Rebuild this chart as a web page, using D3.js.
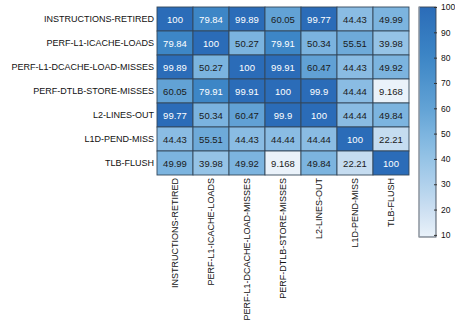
<!DOCTYPE html>
<html><head><meta charset="utf-8">
<script src="https://cdn.jsdelivr.net/npm/d3@7"></script>
<style>body{margin:0;background:#fff;}svg{display:block;font-family:"Liberation Sans",Arial,sans-serif;}</style>
</head><body><svg id="c" width="455" height="327"></svg>
<script>
const labels = ["INSTRUCTIONS-RETIRED","PERF-L1-ICACHE-LOADS","PERF-L1-DCACHE-LOAD-MISSES","PERF-DTLB-STORE-MISSES","L2-LINES-OUT","L1D-PEND-MISS","TLB-FLUSH"];
const row0 = [100, 79.84, 99.89, 60.05, 99.77, 44.43, 49.99];
const row1 = [79.84, 100, 50.27, 79.91, 50.34, 55.51, 39.98];
const row2 = [99.89, 50.27, 100, 99.91, 60.47, 44.43, 49.92];
const row3 = [60.05, 79.91, 99.91, 100, 99.9, 44.44, 9.168];
const row4 = [99.77, 50.34, 60.47, 99.9, 100, 44.44, 49.84];
const row5 = [44.43, 55.51, 44.43, 44.44, 44.44, 100, 22.21];
const row6 = [49.99, 39.98, 49.92, 9.168, 49.84, 22.21, 100];
const colorbarTicks = [10,20,30,40,50,60,70,80,90,100];
const matrix = [row0,row1,row2,row3,row4,row5,row6];

const vmin = d3.min(matrix.flat()), vmax = d3.max(matrix.flat());
const color = d3.scaleLinear()
  .domain([9.168, 22, 40, 50, 60, 80, 100])
  .range(["#eaf2fa","#c6dcf0","#95c3e6","#7cb4df","#62a2d5","#3d86c6","#2b6cb8"])
  .interpolate(d3.interpolateRgb).clamp(true);

const svg = d3.select("#c");
const x = d3.scaleBand().domain(labels).range([157, 409]);
const y = d3.scaleBand().domain(labels).range([7, 175]);

const cells = [];
matrix.forEach((r,i)=>r.forEach((v,j)=>cells.push({r:labels[i],c:labels[j],v})));

svg.append("g").selectAll("rect").data(cells).join("rect")
  .attr("x", d=>x(d.c)).attr("y", d=>y(d.r))
  .attr("width", x.bandwidth()).attr("height", y.bandwidth())
  .attr("fill", d=>color(d.v)).attr("stroke","#34475a").attr("stroke-width",0.9);

svg.append("g").selectAll("text").data(cells).join("text")
  .attr("x", d=>x(d.c)+x.bandwidth()/2).attr("y", d=>y(d.r)+y.bandwidth()/2)
  .attr("text-anchor","middle").attr("dominant-baseline","central")
  .attr("font-size",9.5)
  .attr("fill", d=>d.v>70?"#ffffff":"#1a1a1a")
  .text(d=>d.v);

// y axis labels
const ya = svg.append("g").attr("transform","translate(157,0)")
  .call(d3.axisLeft(y).tickSize(0).tickPadding(3));
ya.select(".domain").remove();
ya.selectAll("text").attr("font-size",9).attr("fill","#111").attr("font-family","Liberation Sans, Arial, sans-serif");

// x axis labels
const xa = svg.append("g").attr("transform","translate(0,175)")
  .call(d3.axisBottom(x).tickSize(0).tickPadding(3));
xa.select(".domain").remove();
xa.selectAll("text").attr("font-size",9).attr("fill","#111")
  .attr("font-family","Liberation Sans, Arial, sans-serif")
  .attr("transform","rotate(-90)")
  .attr("text-anchor","end").attr("dy","0.32em").attr("x",-3).attr("y",0);

// colorbar
const cb = {x:419, w:17, top:7, bottom:237};
const cy = d3.scaleLinear().domain([vmin, vmax]).range([cb.bottom, cb.top]);
const defs = svg.append("defs");
const grad = defs.append("linearGradient").attr("id","g").attr("x1",0).attr("y1",1).attr("x2",0).attr("y2",0);
d3.range(0,1.0001,0.05).forEach(t=>{
  const v = vmin + t*(vmax-vmin);
  grad.append("stop").attr("offset",t).attr("stop-color",color(v));
});
svg.append("rect").attr("x",cb.x).attr("y",cb.top).attr("width",cb.w).attr("height",cb.bottom-cb.top)
  .attr("fill","url(#g)").attr("stroke","#3a4654").attr("stroke-width",0.9);
svg.append("line").attr("x1",cb.x).attr("x2",cb.x).attr("y1",cb.top).attr("y2",cb.bottom)
  .attr("stroke","#a9b0b8").attr("stroke-width",1.2);
const ca = svg.append("g").attr("transform",`translate(${cb.x+cb.w},0)`)
  .call(d3.axisRight(cy).tickValues(colorbarTicks).tickSize(3).tickPadding(2).tickFormat(d3.format("d")));
ca.select(".domain").remove();
ca.selectAll("line").attr("stroke","#333").attr("transform","translate(-2,0)");
ca.selectAll("text").attr("font-size",8.5).attr("fill","#111").attr("font-family","Liberation Sans, Arial, sans-serif");
</script></body></html>
